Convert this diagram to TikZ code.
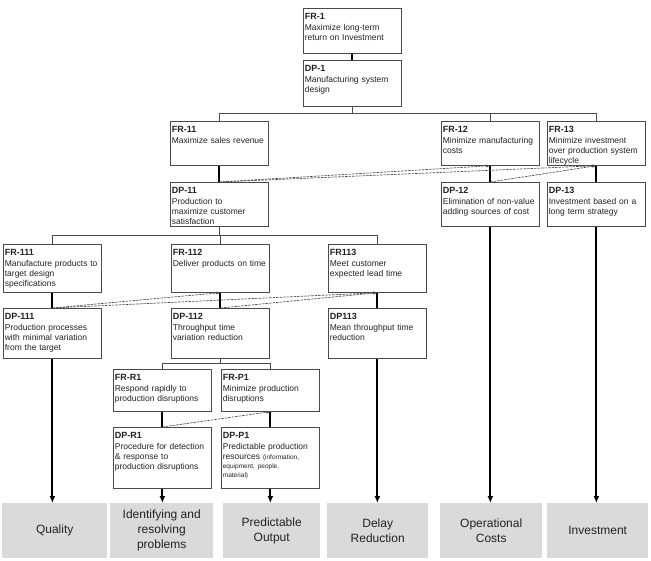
\documentclass[tikz,border=0pt]{standalone}
\usepackage{fontspec}
\setmainfont{Liberation Sans}
\usetikzlibrary{arrows.meta}
\definecolor{boxline}{HTML}{4A4A4A}
\definecolor{ink}{HTML}{222222}
\definecolor{outbg}{HTML}{DADADA}
\hyphenpenalty=10000
\newcommand{\hd}[1]{{\fontsize{9}{10}\selectfont\bfseries #1}\\[1pt]}
\begin{document}
\begin{tikzpicture}[x=1pt,y=-1pt,
  dbox/.style={draw=boxline,fill=white,line width=0.7pt,anchor=north west,
    text width=95pt,align=left,inner xsep=1.5pt,inner ysep=3.5pt,
    text height=8pt,text depth=#1,text=ink,font=\fontsize{8.5}{10}\selectfont},
  outbox/.style={fill=outbg,anchor=north west,minimum width=#1,minimum height=55pt,
    align=center,text=ink,font=\fontsize{12}{15}\selectfont},
  conn/.style={draw=boxline,line width=0.7pt},
  link/.style={line width=1.8pt},
  dep/.style={draw=boxline,line width=0.65pt,dash pattern=on 2.5pt off 1pt,-{Latex[length=4pt,width=3pt]}},
  outarrow/.style={line width=1.8pt,-{Latex[length=7pt,width=6pt]}}]
  \useasboundingbox (0,0) rectangle (651,561);
  \node[dbox=30pt] (fr1) at (303,8) {\hd{FR-1}Maximize long-term\\return on Investment};
  \node[dbox=31pt] (dp1) at (303,60) {\hd{DP-1}Manufacturing system\\design};
  \node[dbox=29pt] (fr11) at (170,121) {\hd{FR-11}Maximize sales revenue};
  \node[dbox=29pt] (fr12) at (441,121) {\hd{FR-12}Minimize manufacturing\\costs};
  \node[dbox=29pt] (fr13) at (547,121) {\hd{FR-13}Minimize investment\\over production system\\lifecycle};
  \node[dbox=29pt] (dp11) at (170,182) {\hd{DP-11}Production to\\maximize customer\\satisfaction};
  \node[dbox=29pt] (dp12) at (441,182) {\hd{DP-12}Elimination of non-value\\adding sources of cost};
  \node[dbox=29pt] (dp13) at (547,182) {\hd{DP-13}Investment based on a\\long term strategy};
  \node[dbox=33pt] (fr111) at (3,244) {\hd{FR-111}Manufacture products to\\target design\\specifications};
  \node[dbox=33pt] (fr112) at (171,244) {\hd{FR-112}Deliver products on time};
  \node[dbox=33pt] (fr113) at (328,244) {\hd{FR113}Meet customer\\expected lead time};
  \node[dbox=35pt] (dp111) at (3,308) {\hd{DP-111}Production processes\\with minimal variation\\from the target};
  \node[dbox=35pt] (dp112) at (171,308) {\hd{DP-112}Throughput time\\variation reduction};
  \node[dbox=35pt] (dp113) at (328,308) {\hd{DP113}Mean throughput time\\reduction};
  \node[dbox=27pt] (frr1) at (113,369) {\hd{FR-R1}Respond rapidly to\\production disruptions};
  \node[dbox=27pt] (frp1) at (221,369) {\hd{FR-P1}Minimize production\\disruptions};
  \node[dbox=46pt] (dpr1) at (113,427) {\hd{DP-R1}Procedure for detection\\\& response to\\production disruptions};
  \node[dbox=46pt] (dpp1) at (221,427) {\hd{DP-P1}Predictable production\\resources {\fontsize{6.5}{8}\selectfont(information,}\\[-1pt]
    {\fontsize{6.5}{8}\selectfont equipment, people,}\\[-1pt]{\fontsize{6.5}{8}\selectfont material)}};
  \node[outbox=105pt] (quality) at (2,503) {Quality};
  \node[outbox=103pt] (resolve) at (110,503) {Identifying and\\resolving\\problems};
  \node[outbox=97pt] (predict) at (223,503) {Predictable\\Output};
  \node[outbox=101pt] (delay) at (327,503) {Delay\\Reduction};
  \node[outbox=102pt] (opcost) at (440,503) {Operational\\Costs};
  \node[outbox=101pt] (invest) at (547,503) {Investment};
  \coordinate (bus1) at (0,113);
  \coordinate (bus2) at (0,235);
  \coordinate (bus3) at (0,363);
  \draw[link] (fr1) -- (dp1);
  \draw[conn] (dp1.south) -- (dp1.south |- bus1);
  \draw[conn] (fr11.north) -- (fr11.north |- bus1) -- (fr13.north |- bus1) -- (fr13.north);
  \draw[conn] (fr12.north |- bus1) -- (fr12.north);
  \draw[link] (fr11) -- (dp11);
  \draw[link] (fr12) -- (dp12);
  \draw[link] (fr13) -- (dp13);
  \draw[conn] (dp11.south) -- (dp11.south |- bus2);
  \draw[conn] (fr111.north) -- (fr111.north |- bus2) -- (fr113.north |- bus2) -- (fr113.north);
  \draw[conn] (fr112.north |- bus2) -- (fr112.north);
  \draw[link] (fr111) -- (dp111);
  \draw[link] (fr112) -- (dp112);
  \draw[link] (fr113) -- (dp113);
  \draw[conn] (dp112.south) -- (dp112.south |- bus3);
  \draw[conn] (frr1.north) -- (frr1.north |- bus3) -- (frp1.north |- bus3) -- (frp1.north);
  \draw[link] (frr1) -- (dpr1);
  \draw[link] (frp1) -- (dpp1);
  \draw[dep] (dp11.north) -- (fr12.south);
  \draw[dep] (dp11.north) -- (fr13.south);
  \draw[dep] (dp12.north) -- (fr13.south);
  \draw[dep] (dp111.north) -- (fr112.south);
  \draw[dep] (dp111.north) -- (fr113.south);
  \draw[dep] (dp112.north) -- (fr113.south);
  \draw[dep] (dpr1.north) -- (frp1.south);
  \draw[outarrow] (dp111.south) -- (dp111.south |- quality.north);
  \draw[outarrow] (dpr1.south) -- (dpr1.south |- resolve.north);
  \draw[outarrow] (dpp1.south) -- (dpp1.south |- predict.north);
  \draw[outarrow] (dp113.south) -- (dp113.south |- delay.north);
  \draw[outarrow] (dp12.south) -- (dp12.south |- opcost.north);
  \draw[outarrow] (dp13.south) -- (dp13.south |- invest.north);
\end{tikzpicture}
\end{document}
